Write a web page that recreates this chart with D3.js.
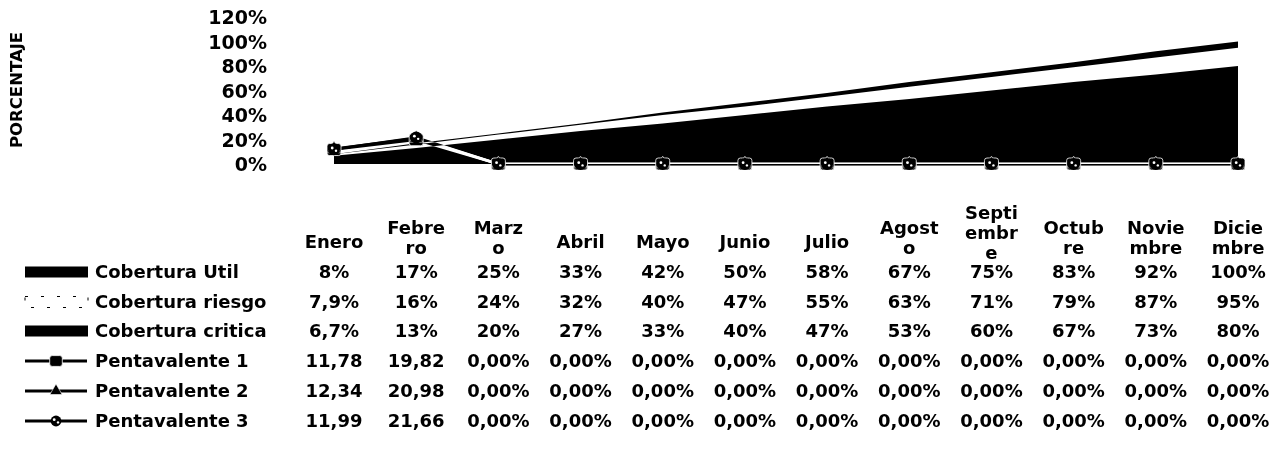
<!DOCTYPE html>
<html>
<head>
<meta charset="utf-8">
<script src="https://cdn.jsdelivr.net/npm/d3@7"></script>
<style>
  html, body { margin: 0; padding: 0; background: #fff; }
  svg { display: block; }
  text { font-family: "DejaVu Sans", Verdana, sans-serif; font-weight: bold; fill: #000; }
</style>
</head>
<body>
<svg id="chart" width="1272" height="474"></svg>
<script>
// Months (column keys) and their wrapped header lines in the data table
const months = ["Enero","Febrero","Marzo","Abril","Mayo","Junio","Julio","Agosto","Septiembre","Octubre","Noviembre","Diciembre"];
const monthLines = [["Enero"],["Febre","ro"],["Marz","o"],["Abril"],["Mayo"],["Junio"],["Julio"],["Agost","o"],["Septi","embr","e"],["Octub","re"],["Novie","mbre"],["Dicie","mbre"]];

// Coverage targets (fractions)
const coberturaUtil    = [0.08, 0.17, 0.25, 0.33, 0.42, 0.50, 0.58, 0.67, 0.75, 0.83, 0.92, 1.00];
const coberturaRiesgo  = [0.079, 0.16, 0.24, 0.32, 0.40, 0.47, 0.55, 0.63, 0.71, 0.79, 0.87, 0.95];
const coberturaCritica = [0.067, 0.13, 0.20, 0.27, 0.33, 0.40, 0.47, 0.53, 0.60, 0.67, 0.73, 0.80];

// Pentavalent doses achieved (percent points)
const pentavalente1 = [11.78, 19.82, 0, 0, 0, 0, 0, 0, 0, 0, 0, 0];
const pentavalente2 = [12.34, 20.98, 0, 0, 0, 0, 0, 0, 0, 0, 0, 0];
const pentavalente3 = [11.99, 21.66, 0, 0, 0, 0, 0, 0, 0, 0, 0, 0];

const yTicks = [0, 0.2, 0.4, 0.6, 0.8, 1.0, 1.2];

const svg = d3.select("#chart");
const loc = d3.formatLocale({decimal: ",", thousands: ".", grouping: [3], currency: ["", "€"]});
const fmtPct = loc.format(".2~p");
const fmtPenta = v => v === 0 ? "0,00%" : loc.format(".2f")(v);

const x = d3.scalePoint().domain(months).range([334, 1238]);
const y = d3.scaleLinear().domain([0, 1.2]).range([164, 17]);

// Y axis: labels only
const yAxis = svg.append("g")
  .attr("transform", "translate(271,0)")
  .call(d3.axisLeft(y).tickValues(yTicks).tickFormat(d3.format(".0%")).tickSize(0).tickPadding(4));
yAxis.select(".domain").remove();
yAxis.selectAll("text").style("font-size", "19px").attr("font-family", null).attr("dy", "0.36em");

svg.append("text")
  .attr("transform", "translate(16,90) rotate(-90)")
  .attr("text-anchor", "middle")
  .attr("dy", "0.36em")
  .style("font-size", "16.5px")
  .text("PORCENTAJE");

// Overlapping area series
const areaGen = vals => d3.area()
  .x((d, i) => x(months[i]))
  .y0(y(0))
  .y1(d => y(d))(vals);

const plot = svg.append("g");
plot.append("path").attr("d", areaGen(coberturaUtil)).attr("fill", "#000");
plot.append("path").attr("d", areaGen(coberturaRiesgo)).attr("fill", "#fff");
plot.append("path").attr("d", areaGen(coberturaCritica)).attr("fill", "#000");

// Pentavalent lines: drawn as an inverting layer so they read dark on
// the white background and light across the dark areas
const lineGen = vals => d3.line()
  .x((d, i) => x(months[i]))
  .y(d => y(d / 100))(vals);

const pentas = [pentavalente1, pentavalente2, pentavalente3];
const lineLayer = plot.append("g").style("mix-blend-mode", "difference");
pentas.forEach(vals => {
  lineLayer.append("path").attr("d", lineGen(vals)).attr("fill", "none")
    .attr("stroke", "#fff").attr("stroke-width", 2.6);
});

function drawMarker(g, kind, cx, cy, s = 1) {
  if (kind === 0) {
    g.append("rect").attr("x", cx - 7 * s).attr("y", cy - 6 * s).attr("width", 14 * s).attr("height", 12 * s)
      .attr("rx", 2.5).attr("fill", "#000").attr("stroke", "#fff").attr("stroke-width", 0.8);
  } else if (kind === 1) {
    g.append("path").attr("d", d3.symbol(d3.symbolTriangle, 80 * s * s)()).attr("transform", `translate(${cx},${cy})`)
      .attr("fill", "#000").attr("stroke", "#fff").attr("stroke-width", 0.6);
  } else {
    g.append("circle").attr("cx", cx).attr("cy", cy).attr("r", 6 * s).attr("fill", "#000");
    g.append("circle").attr("cx", cx - 1.8).attr("cy", cy - 1.3).attr("r", 1.4).attr("fill", "#fff");
    g.append("circle").attr("cx", cx + 2).attr("cy", cy + 1.4).attr("r", 1.2).attr("fill", "#fff");
  }
}
pentas.forEach((vals, k) => {
  vals.forEach((v, i) => drawMarker(plot, k, x(months[i]), y(v / 100)));
});

// Data table: month headers
const header = svg.append("g");
monthLines.forEach((lines, i) => {
  const t = header.append("text")
    .attr("text-anchor", "middle")
    .style("font-size", "18px");
  lines.forEach((ln, j) => {
    t.append("tspan")
      .attr("x", x(months[i]))
      .attr("y", 242 - (lines.length - 1) * 14.5 + j * 20)
      .attr("dy", "0.36em")
      .text(ln);
  });
});

// Data table rows
const rows = [
  {name: "Cobertura Util",    vals: coberturaUtil,    fmt: fmtPct, key: "area",  fill: "#000"},
  {name: "Cobertura riesgo",  vals: coberturaRiesgo,  fmt: fmtPct, key: "area",  fill: "#fff"},
  {name: "Cobertura critica", vals: coberturaCritica, fmt: fmtPct, key: "area",  fill: "#000"},
  {name: "Pentavalente 1",    vals: pentavalente1,    fmt: fmtPenta, key: "line", mk: 0},
  {name: "Pentavalente 2",    vals: pentavalente2,    fmt: fmtPenta, key: "line", mk: 1},
  {name: "Pentavalente 3",    vals: pentavalente3,    fmt: fmtPenta, key: "line", mk: 2}
];
const rowY = [272, 302, 331, 361, 391, 421];

const table = svg.append("g");
rows.forEach((r, ri) => {
  const cy = rowY[ri];
  if (r.key === "area") {
    const rect = table.append("rect").attr("x", 25).attr("y", cy - 5.5).attr("width", 63).attr("height", 11).attr("fill", r.fill);
    if (r.fill === "#fff") rect.attr("stroke", "#000").attr("stroke-width", 1).attr("stroke-dasharray", "3 13");
  } else {
    table.append("line").attr("x1", 25).attr("x2", 87).attr("y1", cy).attr("y2", cy).attr("stroke", "#000").attr("stroke-width", 3);
    drawMarker(table, r.mk, 56, cy, 0.9);
  }
  table.append("text")
    .attr("x", 95).attr("y", cy).attr("dy", "0.36em")
    .style("font-size", "18px")
    .text(r.name);
  r.vals.forEach((v, i) => {
    table.append("text")
      .attr("x", x(months[i])).attr("y", cy).attr("dy", "0.36em")
      .attr("text-anchor", "middle")
      .style("font-size", "18px")
      .text(r.fmt(v));
  });
});
</script>
</body>
</html>
